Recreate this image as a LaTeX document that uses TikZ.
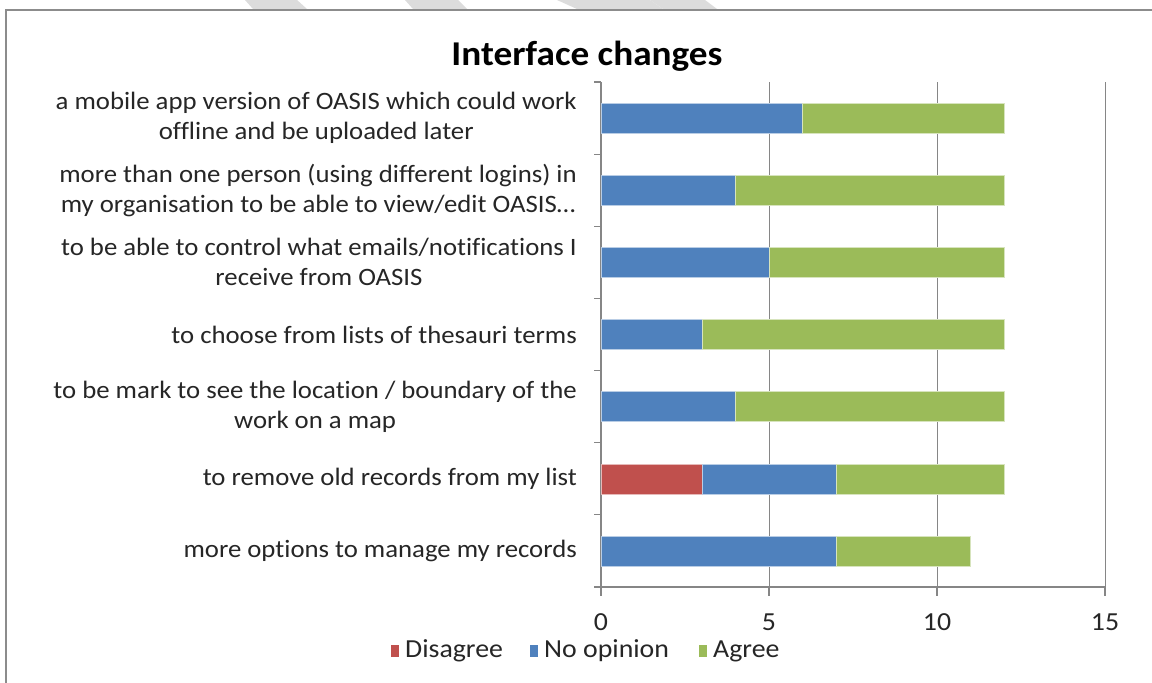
\documentclass[tikz,border=0pt]{standalone}
\usepackage{fontspec}
\setmainfont{Carlito}[FakeStretch=1.07, Ligatures=NoCommon]
\definecolor{cdis}{HTML}{C0504D}
\definecolor{cnop}{HTML}{4F81BD}
\definecolor{cagr}{HTML}{9BBB59}
\definecolor{cgrid}{HTML}{868686}
\definecolor{cframe}{HTML}{8C8C8C}
\definecolor{cmark}{HTML}{DCDCDC}
\tikzset{
  lab/.style={font=\fontsize{25}{30}\selectfont, text=black!85, inner sep=0pt, align=center},
  ticklab/.style={font=\fontsize{26}{30}\selectfont, text=black!85, inner sep=0pt},
  ttl/.style={font=\fontsize{34.8}{40}\selectfont\bfseries, inner sep=0pt},
  gridline/.style={draw=cgrid, line width=1pt},
  axisline/.style={draw=cgrid, line width=1.2pt},
  barstyle/.style={draw=white!60!#1, line width=0.6pt, fill=#1},
  legbox/.style={fill=#1, minimum width=8pt, minimum height=12pt, inner sep=0pt},
}
\begin{document}
\begin{tikzpicture}[x=1pt,y=-1pt]
\useasboundingbox (0,0) rectangle (1152,683);
\fill[white] (0,0) rectangle (1152,683);
% watermark stripes
\fill[cmark] (245,0) -- (297,0) -- (307,9) -- (253,9) -- cycle;
\fill[cmark] (405,0) -- (458,0) -- (467,9) -- (413,9) -- cycle;
\fill[cmark] (557,0) -- (650,0) -- (663,9) -- (577,9) -- cycle;
\fill[cmark] (650,0) -- (705,0) -- (717,9) -- (663,9) -- cycle;
% frame
\draw[cframe, line width=2.5pt] (6,683) -- (6,10) -- (1152,10);
% title
\node[ttl] (title) at (587,56) {Interface changes};
% plot in value units
\begin{scope}[shift={(601,0)}, x=33.6pt]
  \foreach \v in {5,10,15} \draw[gridline] (\v,82) -- (\v,587);
  \draw[axisline] (0,82) -- (0,587);
  \foreach \k in {0,...,7} \draw[axisline] (-0.2,{82+72.14*\k}) -- (0,{82+72.14*\k});
  \draw[axisline] (-0.2,587) -- (15,587);
  \foreach \v in {0,5,10,15} \draw[axisline] (\v,587) -- (\v,596);
  \foreach \v in {0,5,10,15} \node[ticklab] (t\v) at (\v,622) {\v};
  % bars: rows 1..7
  \fill[barstyle=cnop] (0,103) rectangle (6,133);
  \fill[barstyle=cagr] (6,103) rectangle (12,133);
  \fill[barstyle=cnop] (0,175.2) rectangle (4,205.2);
  \fill[barstyle=cagr] (4,175.2) rectangle (12,205.2);
  \fill[barstyle=cnop] (0,247.4) rectangle (5,277.4);
  \fill[barstyle=cagr] (5,247.4) rectangle (12,277.4);
  \fill[barstyle=cnop] (0,319.5) rectangle (3,349.5);
  \fill[barstyle=cagr] (3,319.5) rectangle (12,349.5);
  \fill[barstyle=cnop] (0,391.6) rectangle (4,421.6);
  \fill[barstyle=cagr] (4,391.6) rectangle (12,421.6);
  \fill[barstyle=cdis] (0,463.8) rectangle (3,493.8);
  \fill[barstyle=cnop] (3,463.8) rectangle (7,493.8);
  \fill[barstyle=cagr] (7,463.8) rectangle (12,493.8);
  \fill[barstyle=cnop] (0,535.9) rectangle (7,565.9);
  \fill[barstyle=cagr] (7,535.9) rectangle (11,565.9);
\end{scope}
% category labels
\node[lab, anchor=east] (c1) at (577,118.1) {a mobile app version of OASIS which could work\\offline and be uploaded later};
\node[lab, anchor=east] (c2) at (577,190.2) {more than one person (using different logins) in\\my organisation to be able to view/edit OASIS\dots};
\node[lab, anchor=east] (c3) at (577,262.4) {to be able to control what emails/notifications I\\receive from OASIS};
\node[lab, anchor=east] (c4) at (577,334.5) {to choose from lists of thesauri terms};
\node[lab, anchor=east] (c5) at (577,406.6) {to be mark to see the location / boundary of the\\work on a map};
\node[lab, anchor=east] (c6) at (577,478.8) {to remove old records from my list};
\node[lab, anchor=east] (c7) at (577,550.9) {more options to manage my records};
% legend
\node[legbox=cdis] (l1) at (395,651) {};
\node[ticklab, anchor=west] (l1t) at (405,651) {Disagree};
\node[legbox=cnop] (l2) at (534,651) {};
\node[ticklab, anchor=west] (l2t) at (544,651) {No opinion};
\node[legbox=cagr] (l3) at (703,651) {};
\node[ticklab, anchor=west] (l3t) at (713,651) {Agree};
\end{tikzpicture}
\end{document}
